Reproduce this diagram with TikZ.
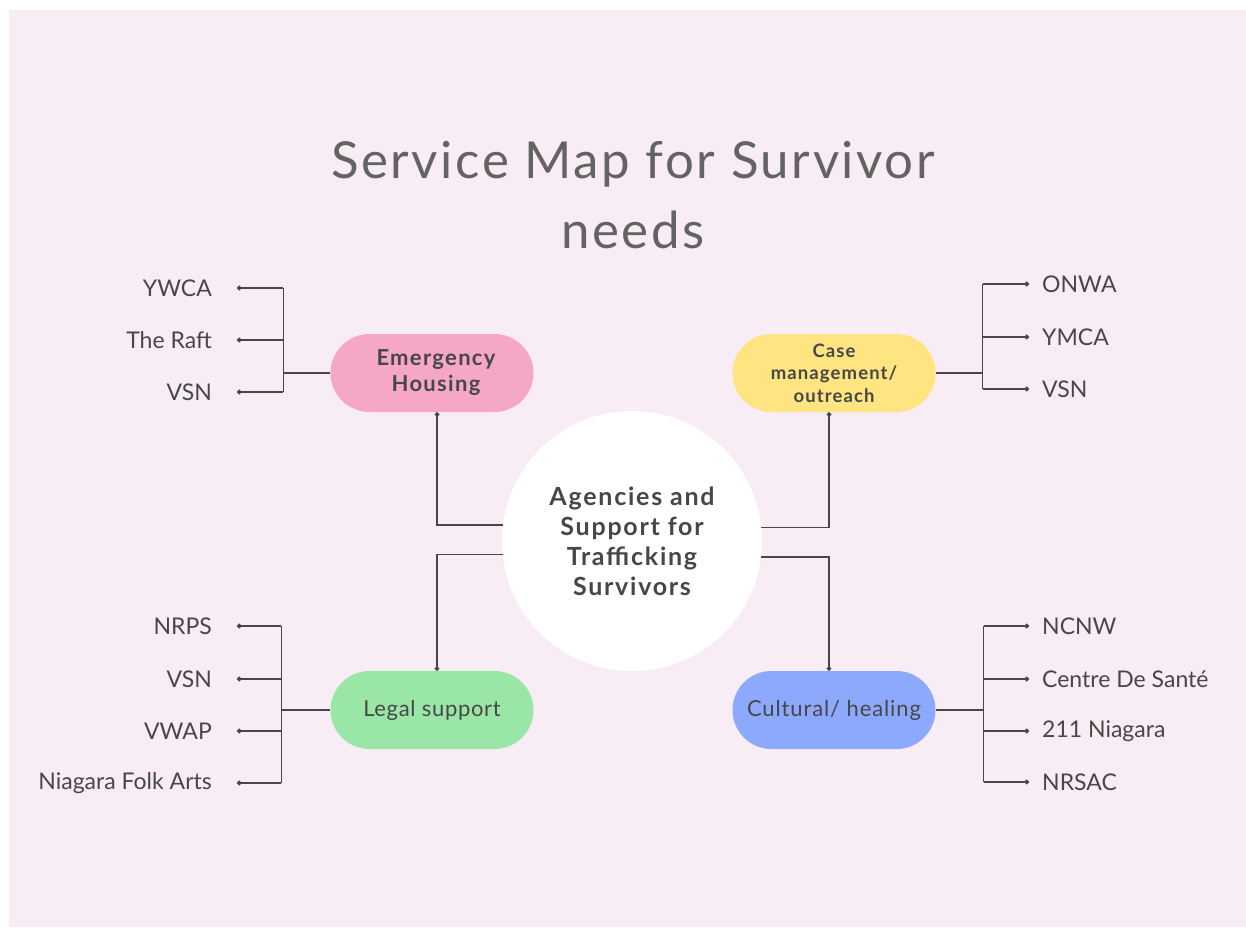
\documentclass[tikz,border=0pt]{standalone}
\usepackage{fontspec}
\setmainfont{Lato}
\usepackage{tikz}
\usetikzlibrary{positioning,arrows.meta}
\usepackage{xcolor}
\definecolor{bgpink}{HTML}{F8EDF5}
\definecolor{ink}{HTML}{474747}
\definecolor{pinkpill}{HTML}{F5A7C5}
\definecolor{yellowpill}{HTML}{FFE482}
\definecolor{greenpill}{HTML}{99E6A6}
\definecolor{bluepill}{HTML}{8CA9FD}

\begin{document}
\begin{tikzpicture}[x=1pt,y=-1pt,
  link/.style={draw=ink,line width=1.4pt},
  dotend/.style={-{Circle[length=4.5pt]}},
  pill/.style={rounded corners=39pt,minimum width=203pt,minimum height=78pt,inner sep=0pt,align=center,text=ink},
  leafL/.style={anchor=east,inner xsep=25pt,inner ysep=0pt,text=ink,font=\fontsize{23}{28}\selectfont},
  leafR/.style={anchor=west,inner xsep=13pt,inner ysep=0pt,text=ink,font=\fontsize{23}{28}\selectfont}]
\useasboundingbox[fill=white] (0,0) rectangle (1246,927);
\fill[bgpink] (9,10) rectangle (1246,927);
\node[text=ink!85,align=center,font=\fontsize{51}{70}\selectfont\addfontfeatures{LetterSpace=5}] (title) at (633,195) {Service Map for Survivor\\needs};
% centre and the four groups
\node[circle,fill=white,minimum size=260pt,align=center,text=ink,font=\fontsize{25}{30}\bfseries\addfontfeatures{LetterSpace=7}] (hub) at (632,541) {Agencies and\\Support for\\Trafficking\\ Survivors};
\node[pill,fill=pinkpill,font=\fontsize{22}{26}\bfseries\addfontfeatures{LetterSpace=6}] (housing) at (432,373) {\hspace*{8pt}Emergency\\\hspace*{8pt}Housing};
\node[pill,fill=yellowpill,font=\fontsize{18.5}{22.5}\bfseries\addfontfeatures{LetterSpace=6}] (casework) at (834,373) {Case\\management/\\outreach};
\node[pill,fill=greenpill,font=\fontsize{22}{26}\selectfont\addfontfeatures{LetterSpace=3}] (legal) at (432,710) {Legal support};
\node[pill,fill=bluepill,font=\fontsize{22}{26}\selectfont\addfontfeatures{LetterSpace=4}] (healing) at (834,710) {Cultural/ healing};
\draw[link,dotend] (hub.173.4) -| ([xshift=5pt]housing.south);
\draw[link,dotend] (hub.6.6) -| ([xshift=-5pt]casework.south);
\draw[link,dotend] (hub.186.6) -| ([xshift=5pt]legal.north);
\draw[link,dotend] (hub.353.4) -| ([xshift=-5pt]healing.north);
% agencies
\node[leafL] (ywca) at (237,288) {YWCA};
\node[leafL] (raft) at (237,340) {The Raft};
\node[leafL] (vsnA) at (237,392) {VSN};
\node[leafR] (onwa) at (1029,284) {ONWA};
\node[leafR] (ymca) at (1029,337) {YMCA};
\node[leafR] (vsnB) at (1029,389) {VSN};
\node[leafL] (nrps) at (237,626) {NRPS};
\node[leafL] (vsnC) at (237,679) {VSN};
\node[leafL] (vwap) at (237,731) {VWAP};
\node[leafL] (folk) at (237,783) {Niagara Folk Arts};
\node[leafR] (ncnw) at (1029,626) {NCNW};
\node[leafR] (sante) at (1029,679) {Centre De Santé};
\node[leafR] (niag) at (1029,731) {211 Niagara};
\node[leafR] (nrsac) at (1029,782) {NRSAC};
\draw[link] (housing.west) -- ++(-47,0) coordinate (hsplit);
\draw[link] (hsplit |- ywca.east) -- (hsplit |- vsnA.east);
\foreach \leaf in {ywca,raft,vsnA} \draw[link,dotend] (hsplit |- \leaf.east) -- (\leaf.east);
\draw[link] (casework.east) -- ++(47,0) coordinate (csplit);
\draw[link] (csplit |- onwa.west) -- (csplit |- vsnB.west);
\foreach \leaf in {onwa,ymca,vsnB} \draw[link,dotend] (csplit |- \leaf.west) -- (\leaf.west);
\draw[link] (legal.west) -- ++(-49,0) coordinate (lsplit);
\draw[link] (lsplit |- nrps.east) -- (lsplit |- folk.east);
\foreach \leaf in {nrps,vsnC,vwap,folk} \draw[link,dotend] (lsplit |- \leaf.east) -- (\leaf.east);
\draw[link] (healing.east) -- ++(48,0) coordinate (hlsplit);
\draw[link] (hlsplit |- ncnw.west) -- (hlsplit |- nrsac.west);
\foreach \leaf in {ncnw,sante,niag,nrsac} \draw[link,dotend] (hlsplit |- \leaf.west) -- (\leaf.west);
\end{tikzpicture}
\end{document}
